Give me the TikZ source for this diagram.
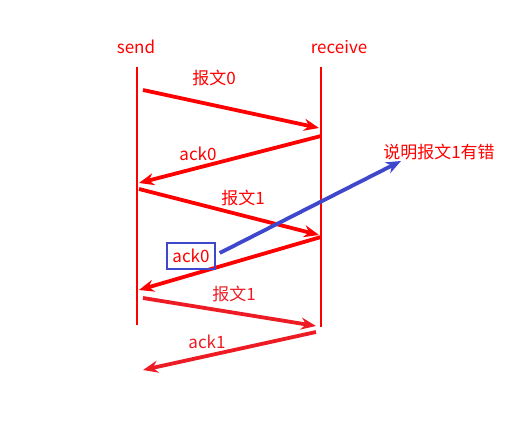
\documentclass[tikz,border=0pt]{standalone}
\usepackage{fontspec}
\setmainfont{Noto Sans CJK SC}
\usetikzlibrary{arrows.meta}
\definecolor{rd}{HTML}{FF0000}
\definecolor{rd2}{HTML}{ED1C24}
\definecolor{bl}{HTML}{3F48CC}
\begin{document}
\begin{tikzpicture}[x=1pt,y=-1pt,
  lbl/.style={text=rd,font=\fontsize{17}{20}\selectfont,inner sep=0pt},
  life/.style={draw=rd,line width=2.2pt},
  msg/.style={draw=rd,line width=3.8pt,-{Stealth[length=15pt,width=12pt]}},
  msgb/.style={draw=rd2,line width=3.8pt,-{Stealth[length=15pt,width=12pt]}}]
\useasboundingbox (0,0) rectangle (531,443);
\node[lbl] (send) at (136,47) {send};
\node[lbl] (recv) at (339,47) {receive};
\coordinate (lt) at (137,67); \coordinate (lb) at (137,325);
\coordinate (rt) at (321,67); \coordinate (rb) at (321,327);
\draw[life] (lt) -- (lb);
\draw[life] (rt) -- (rb);
% messages
\coordinate (a1) at (143,90); \coordinate (b1) at (319,128);
\coordinate (a2) at (321,136); \coordinate (b2) at (139,183);
\coordinate (a3) at (139,189); \coordinate (b3) at (319,235);
\coordinate (a4) at (321,237); \coordinate (b4) at (139,290);
\coordinate (a5) at (143,298); \coordinate (b5) at (316,326);
\coordinate (a6) at (316,332); \coordinate (b6) at (143,370);
\draw[msg] (a1) -- (b1);
\draw[msg] (a2) -- (b2);
\draw[msg] (a3) -- (b3);
\draw[msg] (a4) -- (b4);
\draw[msgb] (a5) -- (b5);
\draw[msgb] (a6) -- (b6);
\node[lbl] (m0) at (214,78) {报文0};
\node[lbl] (k0) at (198,154) {ack0};
\node[lbl] (m1) at (243,198) {报文1};
\node[lbl,text=rd2] (m1b) at (234,294) {报文1};
\node[lbl,text=rd2] (k1) at (207,342) {ack1};
\node[lbl,draw=bl,line width=1.5pt,minimum width=48pt,minimum height=26pt] (box) at (191,256) {ack0};
\node[lbl] (note) at (439,152) {说明报文1有错};
\coordinate (bend) at (401,161);
\draw[draw=bl,line width=3.8pt,-{Stealth[length=15pt,width=12pt]}] (box.east) ++(4,-3) -- (bend);
\end{tikzpicture}
\end{document}
